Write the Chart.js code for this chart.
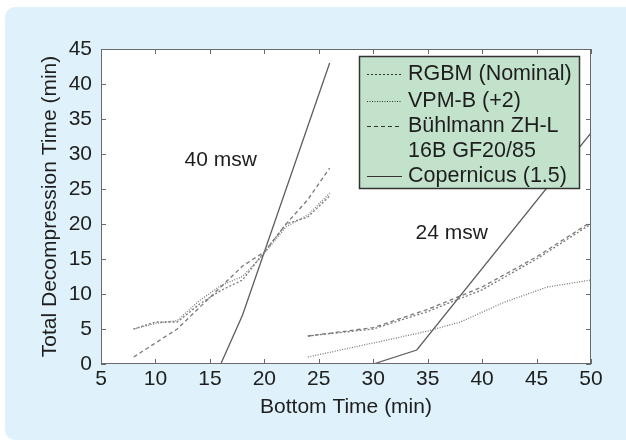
<!DOCTYPE html>
<html lang="en">
<head>
  <meta charset="UTF-8">
  <title>Total decompression time vs bottom time</title>
  <script src="https://cdn.jsdelivr.net/npm/chart.js@4"></script>
  <style>
    html, body { margin: 0; padding: 0; background: #fff; }
    #panel {
      position: absolute; left: 5px; top: 7px;
      width: 621px; height: 433px;
      background: #dff1fa;
      border-radius: 10px 0 0 10px;
    }
    #wrap { position: absolute; left: 0; top: 0; width: 626px; height: 445px; }
  </style>
</head>
<body>
  <div id="panel"></div>
  <div id="wrap"><canvas id="chart" width="626" height="445"></canvas></div>

  <script>
    // bottom time (min) / total decompression time (min), 40 msw dives
    const rgbm40T = [8, 10, 12, 14, 16, 18, 20, 22, 24, 26];
    const rgbm40D = [5, 6, 6, 8.5, 10.5, 12, 16, 20, 21, 24];
    const vpm40T  = [8, 10, 12, 14, 16, 18, 20, 22, 24, 26];
    const vpm40D  = [5, 5.8, 6.2, 9, 11.2, 12.5, 15.8, 19.6, 21.3, 24.4];
    const buhl40T = [8, 10, 12, 14, 16, 18, 20, 22, 24, 26];
    const buhl40D = [1, 3, 5, 8, 11, 14, 16, 20, 23.5, 28];
    const cop40T  = [16, 18, 26];
    const cop40D  = [0, 7, 43];

    // 24 msw dives
    const rgbm24T = [24, 30, 35, 40, 45, 50];
    const rgbm24D = [4, 5, 7.5, 10.6, 15, 20];
    const vpm24T  = [24, 30, 35, 38, 42, 46, 50];
    const vpm24D  = [1, 3, 4.7, 6, 8.8, 11, 12];
    const buhl24T = [24, 30, 35, 40, 45, 50];
    const buhl24D = [4, 5.2, 7.8, 11, 15.3, 20.3];
    const cop24T  = [30, 34, 50];
    const cop24D  = [0, 2, 33];

    const xTickValues = [5, 10, 15, 20, 25, 30, 35, 40, 45, 50];
    const yTickValues = [0, 5, 10, 15, 20, 25, 30, 35, 40, 45];

    const seriesNames = ["RGBM (Nominal)", "VPM-B (+2)", ["Bühlmann ZH-L", "16B GF20/85"], "Copernicus (1.5)"];
    const depthNotes = [{ text: "40 msw", x: 16, y: 29.1 }, { text: "24 msw", x: 37.2, y: 18.7 }];

    const FONT = "'Liberation Sans', Arial, sans-serif";
    const dashes = [[2, 2], [1, 1.5], [4, 3], []];
    const colors = ["#7a7a7a", "#7a7a7a", "#7a7a7a", "#5e5e5e"];

    const pts = (t, d) => t.map((v, i) => ({ x: v, y: d[i] }));

    function line(t, d, k) {
      return {
        data: pts(t, d),
        borderColor: colors[k],
        borderWidth: 1.3,
        borderDash: dashes[k],
        pointRadius: 0,
        tension: 0,
        fill: false
      };
    }

    const datasets = [
      line(rgbm40T, rgbm40D, 0), line(vpm40T, vpm40D, 1), line(buhl40T, buhl40D, 2), line(cop40T, cop40D, 3),
      line(rgbm24T, rgbm24D, 0), line(vpm24T, vpm24D, 1), line(buhl24T, buhl24D, 2), line(cop24T, cop24D, 3)
    ];

    // white plot background
    const plotBg = {
      id: "plotBg",
      beforeDatasetsDraw(chart) {
        const { ctx, chartArea: a } = chart;
        ctx.save();
        ctx.fillStyle = "#fff";
        ctx.fillRect(a.left, a.top, a.width, a.height);
        ctx.restore();
      }
    };

    // box frame with inward ticks on all four sides
    const frame = {
      id: "frame",
      afterDatasetsDraw(chart) {
        const { ctx, chartArea: a, scales: { x, y } } = chart;
        ctx.save();
        ctx.strokeStyle = "#6a6a6a";
        ctx.lineWidth = 1;
        ctx.beginPath();
        xTickValues.forEach(v => {
          const px = Math.round(x.getPixelForValue(v)) + 0.5;
          ctx.moveTo(px, a.bottom); ctx.lineTo(px, a.bottom - 5);
          ctx.moveTo(px, a.top); ctx.lineTo(px, a.top + 5);
        });
        yTickValues.forEach(v => {
          const py = Math.round(y.getPixelForValue(v)) + 0.5;
          ctx.moveTo(a.left, py); ctx.lineTo(a.left + 5, py);
          ctx.moveTo(a.right, py); ctx.lineTo(a.right - 5, py);
        });
        ctx.stroke();
        ctx.strokeRect(a.left + 0.5, a.top + 0.5, a.width - 1, a.height - 1);

        // depth notes
        ctx.fillStyle = "#1e1e1e";
        ctx.font = "21px " + FONT;
        ctx.textAlign = "center";
        ctx.textBaseline = "middle";
        depthNotes.forEach(n => ctx.fillText(n.text, x.getPixelForValue(n.x), y.getPixelForValue(n.y)));
        ctx.restore();
      }
    };

    // legend box in the upper right corner
    const boxLegend = {
      id: "boxLegend",
      afterDraw(chart) {
        const { ctx } = chart;
        const left = 359, top = 56, w = 221, h = 133;
        ctx.save();
        ctx.fillStyle = "#c3e2cc";
        ctx.fillRect(left, top, w, h);
        ctx.strokeStyle = "#333";
        ctx.lineWidth = 1.5;
        ctx.strokeRect(left + 0.5, top + 0.5, w - 1, h - 1);
        ctx.font = "21.5px " + FONT;
        ctx.textBaseline = "middle";
        ctx.textAlign = "left";
        let row = top + 18;
        seriesNames.forEach((name, k) => {
          ctx.strokeStyle = "#333";
          ctx.lineWidth = 1;
          ctx.setLineDash(dashes[k]);
          ctx.beginPath();
          ctx.moveTo(367, row + 0.5);
          ctx.lineTo(402, row + 0.5);
          ctx.stroke();
          ctx.setLineDash([]);
          ctx.fillStyle = "#1e1e1e";
          const lines = Array.isArray(name) ? name : [name];
          lines.forEach((s, j) => ctx.fillText(s, 408, row + j * 25));
          row += lines.length * 25 + (k === 0 ? 2 : 0);
        });
        ctx.restore();
      }
    };

    const tickFont = { family: FONT, size: 21 };

    new Chart(document.getElementById("chart"), {
      type: "line",
      data: { datasets },
      options: {
        responsive: false,
        animation: false,
        layout: { padding: { left: 0, top: 49, right: 35, bottom: 0 } },
        plugins: { legend: { display: false }, tooltip: { enabled: false } },
        scales: {
          x: {
            type: "linear",
            min: 5, max: 50,
            afterBuildTicks(s) { s.ticks = xTickValues.map(v => ({ value: v })); },
            afterFit(s) { s.height = 81; },
            ticks: { color: "#1e1e1e", font: tickFont, padding: 3, maxRotation: 0 },
            grid: { display: false, drawTicks: false },
            border: { display: false },
            title: {
              display: true, text: "Bottom Time (min)", color: "#1e1e1e",
              font: tickFont, padding: { top: 0, bottom: 25 }
            }
          },
          y: {
            min: 0, max: 45,
            afterBuildTicks(s) { s.ticks = yTickValues.map(v => ({ value: v })); },
            afterFit(s) { s.width = 101; },
            ticks: { color: "#1e1e1e", font: tickFont, padding: 9 },
            grid: { display: false, drawTicks: false },
            border: { display: false },
            title: {
              display: true, text: "Total Decompression Time (min)", color: "#1e1e1e",
              font: tickFont, padding: { top: 38, bottom: 0 }
            }
          }
        }
      },
      plugins: [plotBg, frame, boxLegend]
    });
  </script>
</body>
</html>
